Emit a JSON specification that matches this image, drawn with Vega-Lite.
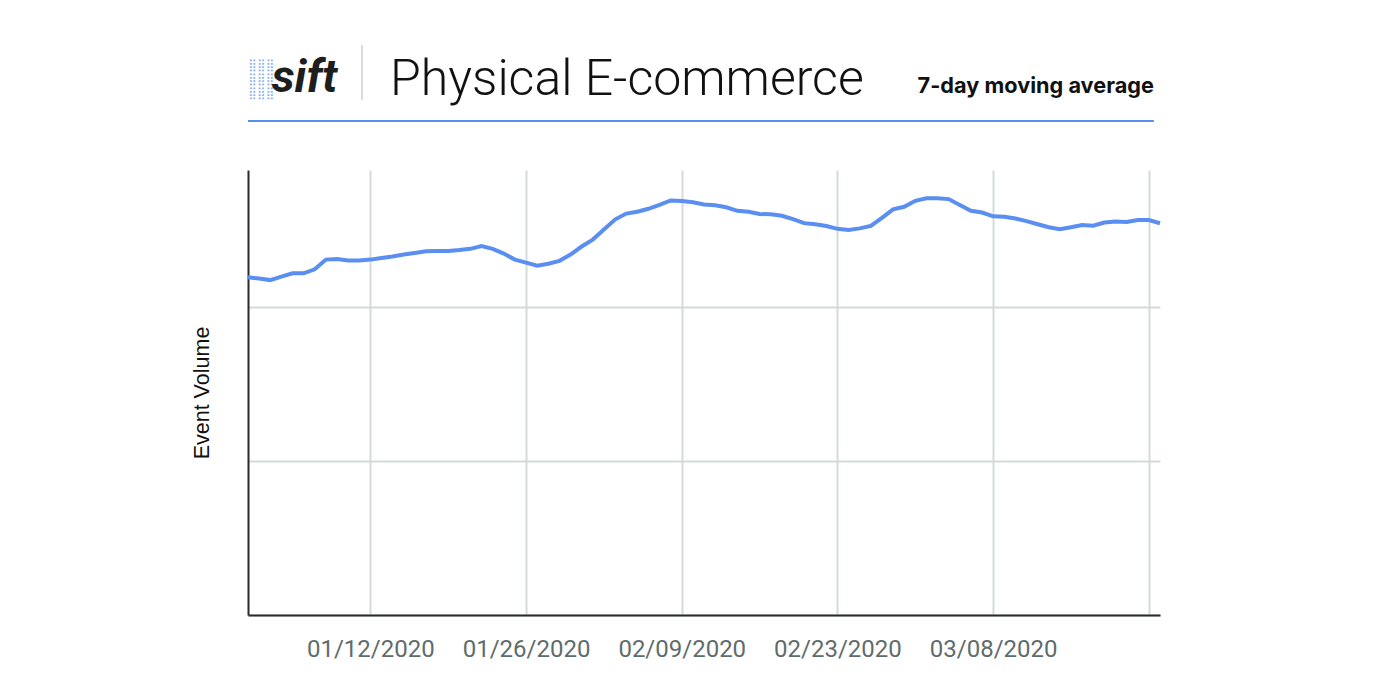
{
  "$schema": "https://vega.github.io/schema/vega-lite/v6.json",
  "width": 912,
  "height": 445,
  "autosize": {"type": "none"},
  "padding": {"left": 248, "top": 170, "right": 240, "bottom": 85},
  "background": "white",
  "config": {
    "view": {"stroke": null},
    "axis": {"gridColor": "#d3dbd9", "gridWidth": 2, "domainColor": "#2b2b2b", "domainWidth": 2}
  },
  "layer": [
    {
      "data": {"values": [
        {"date": "2020-01-01", "v": 2.193}, {"date": "2020-01-02", "v": 2.185}, {"date": "2020-01-03", "v": 2.175},
        {"date": "2020-01-04", "v": 2.197}, {"date": "2020-01-05", "v": 2.219}, {"date": "2020-01-06", "v": 2.219},
        {"date": "2020-01-07", "v": 2.245}, {"date": "2020-01-08", "v": 2.308}, {"date": "2020-01-09", "v": 2.312},
        {"date": "2020-01-10", "v": 2.302}, {"date": "2020-01-11", "v": 2.302}, {"date": "2020-01-12", "v": 2.308},
        {"date": "2020-01-13", "v": 2.318}, {"date": "2020-01-14", "v": 2.328}, {"date": "2020-01-15", "v": 2.341},
        {"date": "2020-01-16", "v": 2.351}, {"date": "2020-01-17", "v": 2.362}, {"date": "2020-01-18", "v": 2.364},
        {"date": "2020-01-19", "v": 2.364}, {"date": "2020-01-20", "v": 2.370}, {"date": "2020-01-21", "v": 2.378},
        {"date": "2020-01-22", "v": 2.396}, {"date": "2020-01-23", "v": 2.378}, {"date": "2020-01-24", "v": 2.347},
        {"date": "2020-01-25", "v": 2.308}, {"date": "2020-01-26", "v": 2.288}, {"date": "2020-01-27", "v": 2.268},
        {"date": "2020-01-28", "v": 2.281}, {"date": "2020-01-29", "v": 2.300}, {"date": "2020-01-30", "v": 2.341},
        {"date": "2020-01-31", "v": 2.393}, {"date": "2020-02-01", "v": 2.438}, {"date": "2020-02-02", "v": 2.503},
        {"date": "2020-02-03", "v": 2.568}, {"date": "2020-02-04", "v": 2.607}, {"date": "2020-02-05", "v": 2.619},
        {"date": "2020-02-06", "v": 2.638}, {"date": "2020-02-07", "v": 2.664}, {"date": "2020-02-08", "v": 2.692},
        {"date": "2020-02-09", "v": 2.688}, {"date": "2020-02-10", "v": 2.680}, {"date": "2020-02-11", "v": 2.666},
        {"date": "2020-02-12", "v": 2.661}, {"date": "2020-02-13", "v": 2.648}, {"date": "2020-02-14", "v": 2.625},
        {"date": "2020-02-15", "v": 2.619}, {"date": "2020-02-16", "v": 2.604}, {"date": "2020-02-17", "v": 2.602},
        {"date": "2020-02-18", "v": 2.593}, {"date": "2020-02-19", "v": 2.571}, {"date": "2020-02-20", "v": 2.545},
        {"date": "2020-02-21", "v": 2.538}, {"date": "2020-02-22", "v": 2.526}, {"date": "2020-02-23", "v": 2.508},
        {"date": "2020-02-24", "v": 2.500}, {"date": "2020-02-25", "v": 2.511}, {"date": "2020-02-26", "v": 2.527},
        {"date": "2020-02-27", "v": 2.579}, {"date": "2020-02-28", "v": 2.634}, {"date": "2020-02-29", "v": 2.651},
        {"date": "2020-03-01", "v": 2.690}, {"date": "2020-03-02", "v": 2.706}, {"date": "2020-03-03", "v": 2.706},
        {"date": "2020-03-04", "v": 2.701}, {"date": "2020-03-05", "v": 2.662}, {"date": "2020-03-06", "v": 2.625},
        {"date": "2020-03-07", "v": 2.614}, {"date": "2020-03-08", "v": 2.589}, {"date": "2020-03-09", "v": 2.586},
        {"date": "2020-03-10", "v": 2.575}, {"date": "2020-03-11", "v": 2.558}, {"date": "2020-03-12", "v": 2.538},
        {"date": "2020-03-13", "v": 2.518}, {"date": "2020-03-14", "v": 2.506}, {"date": "2020-03-15", "v": 2.518},
        {"date": "2020-03-16", "v": 2.532}, {"date": "2020-03-17", "v": 2.528}, {"date": "2020-03-18", "v": 2.549},
        {"date": "2020-03-19", "v": 2.556}, {"date": "2020-03-20", "v": 2.552}, {"date": "2020-03-21", "v": 2.565},
        {"date": "2020-03-22", "v": 2.565}, {"date": "2020-03-23", "v": 2.544}
      ]},
      "mark": {"type": "line", "color": "#5a8ef0", "strokeWidth": 4},
      "encoding": {
        "x": {
          "field": "date", "type": "temporal",
          "scale": {"type": "utc", "domain": [{"year": 2020, "month": 1, "date": 1, "utc": true}, {"year": 2020, "month": 3, "date": 23, "utc": true}]},
          "axis": {
            "title": null,
            "values": [
              {"year": 2020, "month": 1, "date": 12, "utc": true},
              {"year": 2020, "month": 1, "date": 26, "utc": true},
              {"year": 2020, "month": 2, "date": 9, "utc": true},
              {"year": 2020, "month": 2, "date": 23, "utc": true},
              {"year": 2020, "month": 3, "date": 8, "utc": true},
              {"year": 2020, "month": 3, "date": 22, "utc": true}
            ],
            "format": "%m/%d/%Y",
            "labelExpr": "utcmonth(datum.value) == 2 && utcdate(datum.value) == 22 ? '' : datum.label",
            "ticks": false,
            "tickSize": 0,
            "labelPadding": 22,
            "labelFont": "Roboto",
            "labelFontSize": 24,
            "labelColor": "#5f6c6c",
            "grid": true,
            "labelFlush": false,
            "labelOverlap": false
          }
        },
        "y": {
          "field": "v", "type": "quantitative",
          "scale": {"domain": [0, 2.89], "nice": false, "zero": true},
          "axis": {
            "title": "Event Volume",
            "values": [0, 1, 2],
            "labels": false,
            "ticks": false,
            "tickSize": 0,
            "grid": true,
            "titleFont": "Liberation Sans",
            "titleFontSize": 21.5,
            "titleFontWeight": "normal",
            "titleColor": "#111111",
            "titlePadding": 35
          }
        }
      }
    },
    {
      "data": {"values": [{}]},
      "mark": {"type": "rule", "color": "#5b8def", "strokeWidth": 2},
      "encoding": {
        "x": {"datum": {"year": 2020, "month": 1, "date": 1, "utc": true}, "type": "temporal"},
        "x2": {"datum": {"year": 2020, "month": 3, "date": 22, "hours": 10, "minutes": 48, "utc": true}},
        "y": {"datum": 3.208, "type": "quantitative"}
      }
    },
    {
      "data": {"values": [{}]},
      "mark": {"type": "rule", "color": "#d8dcdc", "strokeWidth": 2},
      "encoding": {
        "x": {"datum": {"year": 2020, "month": 1, "date": 11, "hours": 6, "utc": true}, "type": "temporal"},
        "y": {"datum": 3.701, "type": "quantitative"},
        "y2": {"datum": 3.344}
      }
    },
    {
      "data": {"values": [{}]},
      "mark": {"type": "text", "text": "Physical E-commerce", "font": "Roboto", "fontWeight": 300, "fontSize": 50, "align": "left", "baseline": "alphabetic", "color": "#111111"},
      "encoding": {
        "x": {"datum": {"year": 2020, "month": 1, "date": 13, "hours": 18, "minutes": 28, "utc": true}, "type": "temporal"},
        "y": {"datum": 3.377, "type": "quantitative"}
      }
    },
    {
      "data": {"values": [{}]},
      "mark": {"type": "text", "text": "7-day moving average", "font": "Inter", "fontWeight": 700, "fontSize": 21.7, "align": "right", "baseline": "alphabetic", "color": "#111111"},
      "encoding": {
        "x": {"datum": {"year": 2020, "month": 3, "date": 22, "hours": 10, "minutes": 48, "utc": true}, "type": "temporal"},
        "y": {"datum": 3.39, "type": "quantitative"}
      }
    },
    {
      "data": {"values": [{}]},
      "mark": {"type": "text", "text": ["⣿⣿⣿", "⣿⣿⣿", "⣿⣿⣿"], "font": "DejaVu Sans", "fontSize": 12, "lineHeight": 14, "align": "left", "baseline": "middle", "color": "#6a9cf0", "opacity": 0.8},
      "encoding": {
        "x": {"datum": {"year": 2020, "month": 1, "date": 1, "utc": true}, "type": "temporal"},
        "y": {"datum": 3.57, "type": "quantitative"}
      }
    },
    {
      "data": {"values": [{}]},
      "mark": {"type": "text", "text": "sift", "font": "Roboto", "fontWeight": 700, "fontStyle": "italic", "fontSize": 46, "align": "left", "baseline": "alphabetic", "color": "#1e1e1e"},
      "encoding": {
        "x": {"datum": {"year": 2020, "month": 1, "date": 3, "hours": 3, "minutes": 0, "utc": true}, "type": "temporal"},
        "y": {"datum": 3.396, "type": "quantitative"}
      }
    }
  ]
}
